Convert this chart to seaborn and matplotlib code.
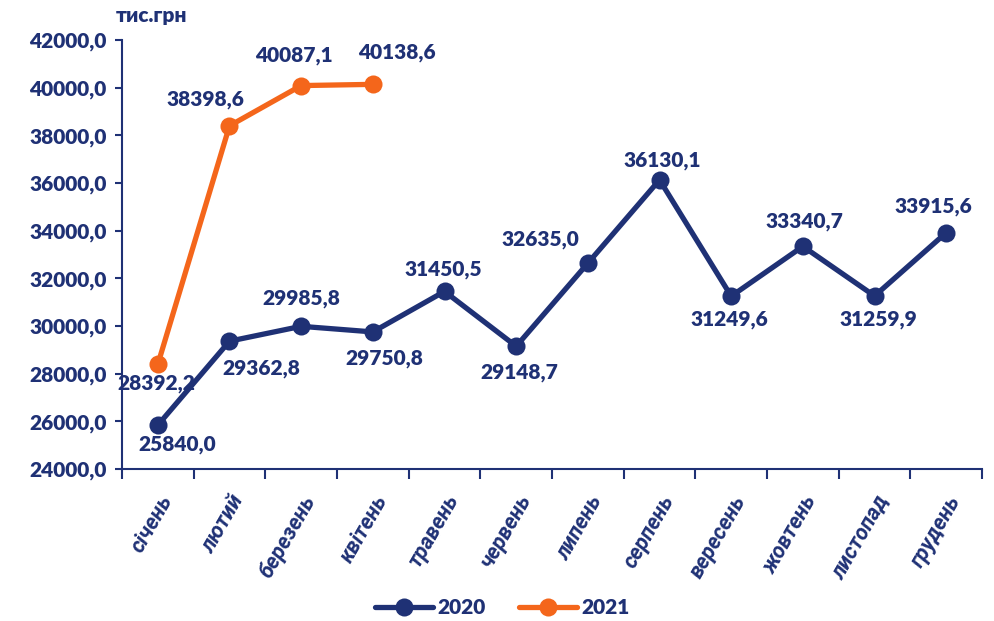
import pandas as pd
import matplotlib.pyplot as plt
import matplotlib.transforms as mtransforms
import seaborn as sns

# Data
months = ["січень", "лютий", "березень", "квітень", "травень", "червень",
          "липень", "серпень", "вересень", "жовтень", "листопад", "грудень"]
values_2020 = [25840.0, 29362.8, 29985.8, 29750.8, 31450.5, 29148.7,
               32635.0, 36130.1, 31249.6, 33340.7, 31259.9, 33915.6]
values_2021 = [28392.2, 38398.6, 40087.1, 40138.6]

NAVY = "#1f3175"
ORANGE = "#f4661b"
FS = 15

sns.set_style("white")
plt.rcParams.update({
    'font.family': ['Lato', 'DejaVu Sans'],
    'font.weight': 'heavy',
    'text.color': NAVY,
    'axes.edgecolor': NAVY,
})

df = pd.concat([
    pd.DataFrame({"month": range(len(values_2020)), "value": values_2020, "year": "2020"}),
    pd.DataFrame({"month": range(len(values_2021)), "value": values_2021, "year": "2021"}),
])

fig = plt.figure(figsize=(9.95, 6.21), dpi=100)
ax = fig.add_axes([0.1226, 0.2448, 0.8644, 0.6908])

sns.lineplot(data=df, x="month", y="value", hue="year",
             palette={"2020": NAVY, "2021": ORANGE}, marker="o",
             markersize=13, markeredgewidth=0, linewidth=3.8, ax=ax)

# label offsets in points (dx, dy)
off_2020 = [(14, -14), (23, -20), (0, 20), (8, -19), (-1, 16), (2, -19),
            (-34, 17), (2, 14), (-1, -17), (1, 18), (3, -17), (-9, 19)]
off_2021 = [(-1, -14), (-17, 19), (-5, 22), (17, 23)]

def fmt(v):
    return f"{v:.1f}".replace(".", ",")

for i, v in enumerate(values_2020):
    ax.annotate(fmt(v), (i, v), xytext=off_2020[i], textcoords="offset points",
                ha="center", va="center", fontsize=FS, fontweight="heavy", color=NAVY)
for i, v in enumerate(values_2021):
    ax.annotate(fmt(v), (i, v), xytext=off_2021[i], textcoords="offset points",
                ha="center", va="center", fontsize=FS, fontweight="heavy", color=NAVY)

ax.set_xlim(-0.5, 11.5)
ax.set_ylim(24000, 42000)
ax.set_yticks(range(24000, 42001, 2000))
ax.set_yticklabels([f"{t},0" for t in range(24000, 42001, 2000)],
                   fontsize=FS, fontweight="heavy", color=NAVY)
ax.set_xticks([i + 0.5 for i in range(-1, 12)], minor=False)
ax.set_xticklabels([])
ax.set_xticks(range(12), minor=True)
ax.set_xticklabels(months, minor=True, rotation=60, ha="right", va="top",
                   rotation_mode="anchor", fontsize=15.5, fontweight="bold",
                   fontstyle="italic", family=["Roboto", "DejaVu Sans"], color=NAVY)
shift = mtransforms.ScaledTranslation(4 / 72, 0, fig.dpi_scale_trans)
for lbl in ax.get_xticklabels(minor=True):
    lbl.set_transform(lbl.get_transform() + shift)
ax.tick_params(axis="x", which="minor", length=0, pad=16)
ax.tick_params(axis="x", which="major", length=7, width=1.5, color=NAVY, direction="out")
ax.tick_params(axis="y", length=5, width=1.5, color=NAVY, direction="out", pad=6)
ax.tick_params(axis="both", bottom=True, left=True)
ax.set_xlabel("")
ax.set_ylabel("")
for side in ["top", "right"]:
    ax.spines[side].set_visible(False)
for side in ["left", "bottom"]:
    ax.spines[side].set_linewidth(1.5)
    ax.spines[side].set_color(NAVY)

fig.text(0.116, 0.975, "тис.грн", fontsize=FS, fontweight="heavy", color=NAVY,
         ha="left", va="center")

leg = ax.legend(loc="center", bbox_to_anchor=(0.505, 0.021), bbox_transform=fig.transFigure,
                ncol=2, frameon=False, fontsize=FS, handlelength=2.8,
                handletextpad=0.2, columnspacing=1.6)
for t in leg.get_texts():
    t.set_color(NAVY)
    t.set_fontweight("heavy")

fig.savefig("out.png", dpi=100)
